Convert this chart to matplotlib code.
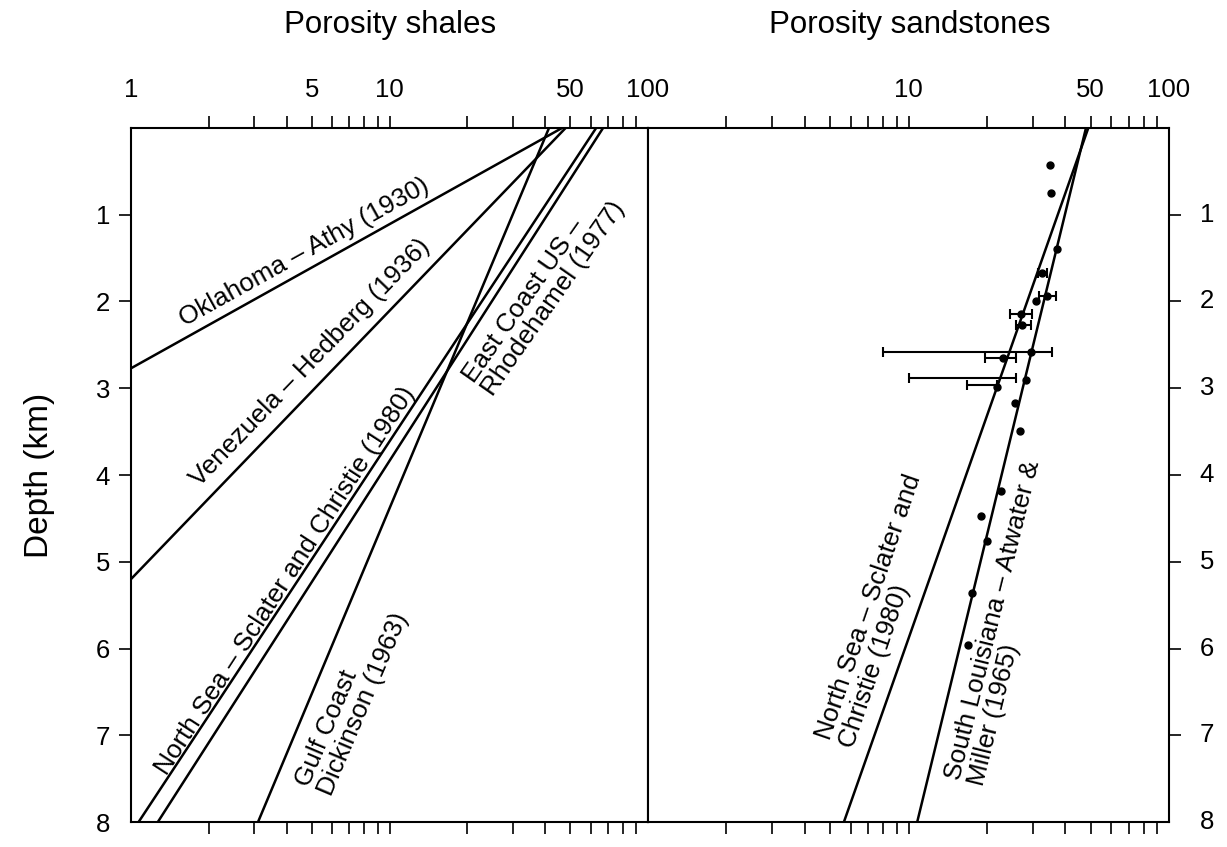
import matplotlib
matplotlib.use("Agg")
import matplotlib.pyplot as plt
import matplotlib.transforms as mtransforms
from matplotlib.ticker import FixedLocator, NullFormatter, FixedFormatter

plt.rcParams['font.family'] = ['Liberation Sans', 'DejaVu Sans']

# ---------------- data ----------------
# Shale porosity-depth trends (straight lines on a log porosity axis):
# porosity at the surface, and a base control point (porosity %, depth km)
shale_labels = ["Oklahoma – Athy (1930)",
                "Venezuela – Hedberg (1936)",
                "North Sea – Sclater and Christie (1980)",
                "Gulf Coast\nDickinson (1963)",
                "East Coast US –\nRhodehamel (1977)"]
shale_phi_surface = [46.5, 48.0, 63.0, 41.4, 67.0]
shale_phi_base = [1.0, 1.0, 1.07, 3.1, 1.27]
shale_depth_base = [2.77, 5.2, 8.0, 8.0, 8.0]

# Sandstone trends
sand_labels = ["North Sea – Sclater and\nChristie (1980)",
               "South Louisiana – Atwater &\nMiller (1965)"]
sand_phi_surface = [49.0, 48.0]
sand_phi_base = [5.65, 10.8]
sand_depth_base = [8.0, 8.0]

# Sandstone observations
obs_depth = [0.43, 0.75, 1.39, 1.67, 1.94, 2.00, 2.14, 2.27, 2.58, 2.65,
             2.90, 2.99, 3.17, 3.49, 4.18, 4.47, 4.76, 5.36, 5.96]
obs_phi = [34.9, 35.2, 37.1, 32.6, 34.1, 30.9, 27.0, 27.3, 29.5, 23.1,
           28.2, 21.9, 25.7, 26.9, 22.6, 19.0, 20.1, 17.6, 16.9]

# Porosity ranges (min, max) at given depths
range_depth = [1.67, 1.94, 2.14, 2.27, 2.58, 2.65, 2.88, 2.96]
range_lo = [31.5, 31.6, 24.6, 25.9, 7.97, 19.7, 10.0, 16.7]
range_hi = [34.1, 36.8, 29.9, 29.5, 35.7, 25.9, 25.9, 21.9]

depth_ticks = [1, 2, 3, 4, 5, 6, 7, 8]
minor_x = [2, 3, 4, 5, 6, 7, 8, 9, 10, 20, 30, 40, 50, 60, 70, 80, 90]
left_x_labels = [1, 5, 10, 50, 100]
right_x_labels = [10, 50, 100]

# label placement (porosity %, depth km, rotation deg, multi-line alignment)
shale_label_pos = [(4.67, 1.43, 29, 'left'), (4.93, 2.70, 46, 'left'),
                   (3.95, 5.22, 57, 'left'), (7.16, 6.59, 67, 'left'),
                   (39.6, 1.89, 55, 'left')]
sand_label_pos = [(7.8, 5.57, 71, 'left'), (23.3, 5.70, 76, 'left')]

# ---------------- figure ----------------
W, H = 1227, 847
fig = plt.figure(figsize=(W / 100, H / 100), dpi=100)
top_px, bot_px = 128, 822
axL = fig.add_axes([131 / W, 1 - bot_px / H, (648 - 131) / W, (bot_px - top_px) / H])
axR = fig.add_axes([648 / W, 1 - bot_px / H, (1169 - 648) / W, (bot_px - top_px) / H])

lw = 1.8
tick_fs = 18.5
lab_fs = 18.8
for ax in (axL, axR):
    ax.set_xscale('log')
    ax.set_xlim(1, 100)
    ax.set_ylim(8, 0)
    for s in ax.spines.values():
        s.set_linewidth(1.5)
    ax.xaxis.remove_overlapping_locs = False
    ax.yaxis.remove_overlapping_locs = False
    ax.xaxis.set_minor_locator(FixedLocator(minor_x))
    ax.xaxis.set_minor_formatter(NullFormatter())
    ax.yaxis.set_major_locator(FixedLocator(depth_ticks))
    ax.yaxis.set_minor_locator(FixedLocator(depth_ticks[:-1]))
    ax.yaxis.set_minor_formatter(NullFormatter())
    ax.tick_params(axis='x', which='minor', top=True, bottom=True,
                   direction='out', length=8.6, width=1.2)
    ax.tick_params(axis='x', which='major', top=True, bottom=False,
                   labeltop=True, labelbottom=False, length=0, pad=19,
                   labelsize=tick_fs)

axL.xaxis.set_major_locator(FixedLocator(left_x_labels))
axL.xaxis.set_major_formatter(FixedFormatter([str(v) for v in left_x_labels]))
axR.xaxis.set_major_locator(FixedLocator(right_x_labels))
axR.xaxis.set_major_formatter(FixedFormatter([str(v) for v in right_x_labels]))

axL.yaxis.set_major_formatter(FixedFormatter([str(v) for v in depth_ticks]))
axL.tick_params(axis='y', which='minor', left=True, right=False,
                direction='out', length=8.6, width=1.2)
axL.tick_params(axis='y', which='major', left=True, right=False, length=0,
                pad=15, labelsize=tick_fs)

# right-hand depth scale: tick marks on the axis, numbers set out to the right
axR.yaxis.set_major_formatter(NullFormatter())
axR.tick_params(axis='y', which='minor', left=False, right=True,
                direction='out', length=8.6, width=1.2)
axR.tick_params(axis='y', which='major', left=False, right=False,
                labelleft=False, labelright=False, length=0)
right_lab_tr = mtransforms.blended_transform_factory(axR.transAxes, axR.transData)
for d in depth_ticks:
    axR.text(1 + 38 / 521, d, str(d), transform=right_lab_tr, ha='center',
             va='center', fontsize=tick_fs, clip_on=False)

# shale trends
for p0, p1, z1 in zip(shale_phi_surface, shale_phi_base, shale_depth_base):
    axL.plot([p0, p1], [0, z1], color='black', lw=lw, solid_capstyle='butt')
for name, (px, pz, rot, ma) in zip(shale_labels, shale_label_pos):
    axL.text(px, pz, name, rotation=rot, rotation_mode='anchor',
             ha='center', va='center', multialignment=ma, fontsize=lab_fs,
             linespacing=1.0)

# sandstone trends
for p0, p1, z1 in zip(sand_phi_surface, sand_phi_base, sand_depth_base):
    axR.plot([p0, p1], [0, z1], color='black', lw=lw, solid_capstyle='butt')
for name, (px, pz, rot, ma) in zip(sand_labels, sand_label_pos):
    axR.text(px, pz, name, rotation=rot, rotation_mode='anchor',
             ha='center', va='center', multialignment=ma, fontsize=lab_fs,
             linespacing=1.0)

# porosity ranges as bars with end caps
for z, lo, hi in zip(range_depth, range_lo, range_hi):
    axR.errorbar([lo], [z], xerr=[[0], [hi - lo]], fmt='none',
                 ecolor='black', elinewidth=1.5, capsize=3.5, capthick=1.5)
axR.plot(obs_phi, obs_depth, 'o', color='black', markersize=5, ls='none')

# titles and depth label
fig.text(390 / W, 1 - 25 / H, "Porosity shales", ha='center', va='center',
         fontsize=22.5)
fig.text(910 / W, 1 - 25 / H, "Porosity sandstones", ha='center',
         va='center', fontsize=22.5)
fig.text(40 / W, 1 - 475 / H, "Depth (km)", rotation=90, ha='center',
         va='center', fontsize=24)

fig.savefig("out.png", dpi=100, facecolor='white')
